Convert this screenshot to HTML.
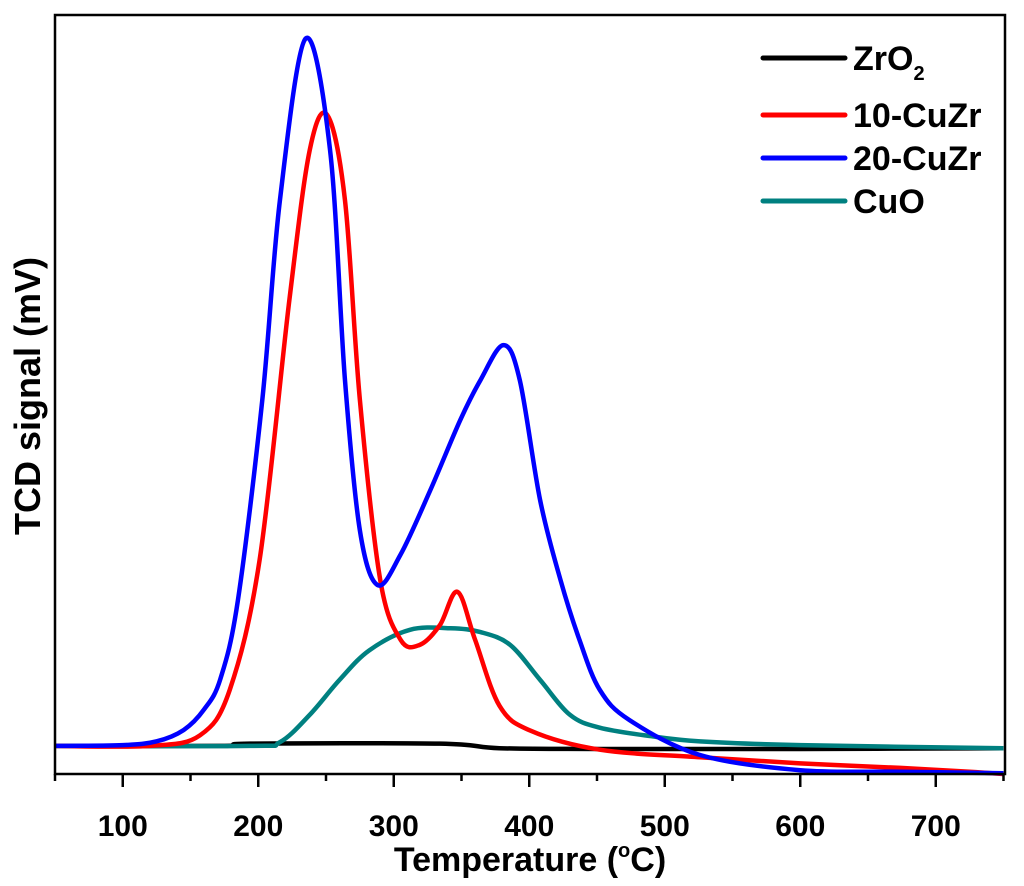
<!DOCTYPE html>
<html><head><meta charset="utf-8"><style>
html,body{margin:0;padding:0;background:#fff}
svg{display:block;font-family:"Liberation Sans",Arial,sans-serif;font-weight:bold}
</style></head><body>
<svg id="chart" width="1024" height="886" viewBox="0 0 1024 886" xmlns="http://www.w3.org/2000/svg">
<g id="plot"></g>
<rect x="55" y="15" width="950" height="759" fill="none" stroke="#000" stroke-width="2.5"/>
<g id="xaxis"></g>
<text x="530" y="871" font-size="34" text-anchor="middle">Temperature (<tspan font-size="20" dy="-14">o</tspan><tspan dy="14">C)</tspan></text>
<text transform="translate(40,396) rotate(-90)" font-size="36" text-anchor="middle">TCD signal (mV)</text>
<g id="legend"></g>
</svg>
<script>
const xTicks=[100,200,300,400,500,600,700];
const xMinor=[50,150,250,350,450,550,650,750];
const seriesNames=["ZrO2","10-CuZr","20-CuZr","CuO"];
const tZr=[50,172,194,334,378,452,600,750];
const vZr=[3.7,3.7,4.0,4.0,3.4,3.3,3.3,3.4];
const tCu10=[50,120,157,179,201,223,238,251,264,275,290,305,319,334,347,360,378,401,452,526,600,674,725,750];
const vCu10=[3.7,3.7,5.1,11.1,28.2,62.5,82.2,86.8,75.6,49.3,25.6,17.7,17.0,19.6,24.0,17.7,9.0,5.7,3.2,2.2,1.4,0.8,0.3,0];
const tCu20=[50,100,125,145,160,172,185,203,216,235,253,264,275,288,305,327,349,364,381,393,408,423,437,452,474,526,600,674,750];
const vCu20=[3.7,3.8,4.3,5.8,8.5,12.5,22.9,49.3,75.6,96.9,82.2,51.9,32.1,24.9,28.9,37.4,46.6,51.9,56.5,51.9,36.1,25.6,17.7,11.1,7.1,2.5,0.5,0.3,0.1];
const tCuO=[50,194,216,238,260,282,312,342,364,386,408,430,452,489,526,600,750];
const vCuO=[3.7,3.7,4.2,7.8,12.4,16.3,19.0,19.2,18.7,17.0,12.4,7.8,6.1,5.0,4.3,3.8,3.4];
const colors=["#000000","#ff0000","#0000ff","#008080"];
const X0=55,X1=1003.5,Y0=774,Y1=15;
const xs=t=>X0+(t-50)/700*(X1-X0);
const ys=v=>Y0-v/100*(Y0-Y1);
const NS="http://www.w3.org/2000/svg";
function pathFor(T,V){
  const p=T.map((t,i)=>[xs(t),ys(V[i])]);
  let d="M"+p[0][0]+","+p[0][1];
  for(let i=0;i<p.length-1;i++){
    const a=p[Math.max(0,i-1)],b=p[i],c=p[i+1],e=p[Math.min(p.length-1,i+2)];
    const c1=[b[0]+(c[0]-a[0])/6,b[1]+(c[1]-a[1])/6],c2=[c[0]-(e[0]-b[0])/6,c[1]-(e[1]-b[1])/6];
    d+=" C"+c1+" "+c2+" "+c;
  }
  return d;
}
const plot=document.getElementById("plot");
const data=[[tZr,vZr],[tCuO,vCuO],[tCu10,vCu10],[tCu20,vCu20]];
const idx=[0,3,1,2];
data.forEach((s,k)=>{
  const el=document.createElementNS(NS,"path");
  el.setAttribute("d",pathFor(s[0],s[1]));
  el.setAttribute("fill","none");
  el.setAttribute("stroke",colors[idx[k]]);
  el.setAttribute("stroke-width","4.5");
  el.setAttribute("stroke-linejoin","round");
  
  
  plot.appendChild(el);
});
const xa=document.getElementById("xaxis");
xTicks.forEach(t=>{
  const l=document.createElementNS(NS,"line");
  l.setAttribute("x1",xs(t));l.setAttribute("x2",xs(t));l.setAttribute("y1",774);l.setAttribute("y2",787);
  l.setAttribute("stroke","#000");l.setAttribute("stroke-width","2.5");
  
  
  xa.appendChild(l);
  const tx=document.createElementNS(NS,"text");
  tx.setAttribute("x",xs(t));tx.setAttribute("y",836);tx.setAttribute("font-size","30");tx.setAttribute("text-anchor","middle");
  tx.textContent=t;
  
  
  xa.appendChild(tx);
});
xMinor.forEach(t=>{
  const l=document.createElementNS(NS,"line");
  l.setAttribute("x1",xs(t));l.setAttribute("x2",xs(t));l.setAttribute("y1",774);l.setAttribute("y2",781);
  l.setAttribute("stroke","#000");l.setAttribute("stroke-width","2.5");
  
  
  xa.appendChild(l);
});
const lg=document.getElementById("legend");
const ly=[58,115,158,201];
seriesNames.forEach((n,i)=>{
  const l=document.createElementNS(NS,"line");
  l.setAttribute("x1",763);l.setAttribute("x2",845);l.setAttribute("y1",ly[i]);l.setAttribute("y2",ly[i]);
  l.setAttribute("stroke",colors[i]);l.setAttribute("stroke-width","5");l.setAttribute("stroke-linecap","round");
  
  
  lg.appendChild(l);
  const tx=document.createElementNS(NS,"text");
  tx.setAttribute("x",853);tx.setAttribute("y",ly[i]+12);tx.setAttribute("font-size","34");
  if(n==="ZrO2"){tx.innerHTML='ZrO<tspan font-size="20" dy="10">2</tspan>';}else{tx.textContent=n;}
  
  
  lg.appendChild(tx);
});
</script>
</body></html>
